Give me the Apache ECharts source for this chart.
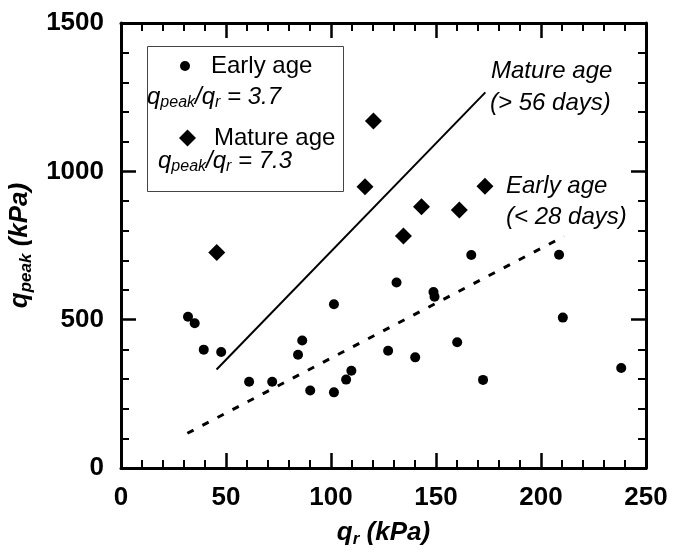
<!DOCTYPE html>
<html>
<head>
<meta charset="utf-8">
<script src="https://cdn.jsdelivr.net/npm/echarts@6/dist/echarts.min.js"></script>
<style>html,body{margin:0;padding:0;background:#fff}#c{width:673px;height:558px}</style>
</head>
<body>
<div id="c"></div>
<script>
// q_r (kPa), q_peak (kPa)
var earlyAge = [
  [31.9,510],[35.1,488],[39.4,399],[47.7,391],[61.0,291],[72.0,291],[84.3,382],[86.3,430],
  [90.1,261],[101.4,552],[101.4,255],[107.2,298],[109.7,328],[127.2,395],[131.2,625],
  [140.1,373],[148.8,593],[149.3,577],[160.1,424],[166.8,718],[172.4,297],[208.6,719],
  [210.4,507],[238.2,337]
];
var matureAge = [
  [45.6,726],[116.2,948],[120.2,1170],[134.5,782],[143.1,881],[161.1,870],[173.3,950]
];
var matureFit = [[45.5,332],[173.5,1266]];   // q_peak/q_r = 7.3
var earlyFit = [[31.6,117],[211,781]];       // q_peak/q_r = 3.7
var xTicks = [0,50,100,150,200,250];
var yTicks = [0,500,1000,1500];

var FONT = '"Liberation Sans", Arial, sans-serif';
var chart = echarts.init(document.getElementById('c'));

function axisBase(pos, showLabel, min, max, interval) {
  return {
    type: 'value', position: pos, min: min, max: max, interval: interval,
    axisLine: {show: true, onZero: false, lineStyle: {color: '#000', width: 3}},
    axisTick: {show: true, inside: true, length: 15, lineStyle: {color: '#000', width: 2.5}},
    minorTick: {show: true, splitNumber: 5, length: 8, lineStyle: {color: '#000', width: 2}},
    splitLine: {show: false},
    axisLabel: {show: showLabel, color: '#000', fontFamily: FONT, fontWeight: 'bold', fontSize: 26, margin: 17,
      formatter: function (v) { return String(v); }}
  };
}

var xMain = axisBase('bottom', true, xTicks[0], xTicks[xTicks.length-1], 50);
xMain.name = '{q|q}{s|r}{q| (kPa)}';
xMain.nameLocation = 'middle';
xMain.nameGap = 50;
xMain.nameTextStyle = {
  rich: {
    q: {fontFamily: FONT, fontWeight: 'bold', fontStyle: 'italic', fontSize: 26, lineHeight: 30, verticalAlign: 'middle', color: '#000'},
    s: {fontFamily: FONT, fontWeight: 'bold', fontStyle: 'italic', fontSize: 17, lineHeight: 15, verticalAlign: 'bottom', color: '#000'}
  }
};
var xTop = axisBase('top', false, xTicks[0], xTicks[xTicks.length-1], 50);

var yMain = axisBase('left', true, yTicks[0], yTicks[yTicks.length-1], 500);
yMain.axisLabel.margin = 17;
yMain.name = '{q|q}{s|peak}{q| (kPa)}';
yMain.nameLocation = 'middle';
yMain.nameGap = 84;
yMain.nameRotate = 90;
yMain.nameTextStyle = xMain.nameTextStyle;
var yRight = axisBase('right', false, yTicks[0], yTicks[yTicks.length-1], 500);

var richRatio = {
  q: {fontFamily: FONT, fontStyle: 'italic', fontSize: 24, lineHeight: 28, verticalAlign: 'middle', fill: '#000'},
  s: {fontFamily: FONT, fontStyle: 'italic', fontSize: 16, lineHeight: 14, verticalAlign: 'bottom', fill: '#000'}
};

var option = {
  backgroundColor: '#fff',
  animation: false,
  grid: {left: 121, right: 27, top: 23, bottom: 90, containLabel: false, outerBoundsMode: 'none'},
  xAxis: [xMain, xTop],
  yAxis: [yMain, yRight],
  legend: [
    {
      data: [{name: 'Early age', icon: 'circle'}],
      left: 175, top: 49, itemWidth: 10, itemHeight: 10,
      textStyle: {fontFamily: FONT, fontSize: 24, color: '#000', padding: [0,0,0,16]},
      selectedMode: false
    },
    {
      data: [{name: 'Mature age', icon: 'diamond'}],
      left: 174, top: 121, itemWidth: 17, itemHeight: 17,
      textStyle: {fontFamily: FONT, fontSize: 24, color: '#000', padding: [0,0,0,13]},
      selectedMode: false
    }
  ],
  graphic: [
    {type: 'rect', shape: {x: 147.5, y: 46.5, width: 196, height: 145}, style: {fill: null, stroke: '#444', lineWidth: 1}, z: 10},
    {type: 'text', left: 147, top: 85, z: 11, style: {text: '{q|q}{s|peak}{q|/q}{s|r}{q| = 3.7}', rich: richRatio}},
    {type: 'text', left: 158, top: 149, z: 11, style: {text: '{q|q}{s|peak}{q|/q}{s|r}{q| = 7.3}', rich: richRatio}},
    {type: 'text', left: 491, top: 59, z: 11, style: {text: 'Mature age', fontFamily: FONT, fontStyle: 'italic', fontSize: 24, fill: '#000'}},
    {type: 'text', left: 490, top: 91, z: 11, style: {text: '(> 56 days)', fontFamily: FONT, fontStyle: 'italic', fontSize: 24, fill: '#000'}},
    {type: 'text', left: 506, top: 174, z: 11, style: {text: 'Early age', fontFamily: FONT, fontStyle: 'italic', fontSize: 24, fill: '#000'}},
    {type: 'text', left: 506, top: 205, z: 11, style: {text: '(< 28 days)', fontFamily: FONT, fontStyle: 'italic', fontSize: 24, fill: '#000'}}
  ],
  series: [
    {
      name: 'Early age', type: 'scatter', data: earlyAge, symbol: 'circle', symbolSize: 10,
      itemStyle: {color: '#000', opacity: 1}
    },
    {
      name: 'Mature age', type: 'scatter', data: matureAge, symbol: 'diamond', symbolSize: 17,
      itemStyle: {color: '#000', opacity: 1}
    },
    {
      name: 'Mature fit', type: 'line', data: matureFit, symbol: 'none',
      lineStyle: {color: '#000', width: 2, type: 'solid'}
    },
    {
      name: 'Early fit', type: 'line', data: earlyFit, symbol: 'none',
      lineStyle: {color: '#000', width: 3, type: [7, 10]}
    }
  ]
};
chart.setOption(option);
</script>
</body>
</html>
